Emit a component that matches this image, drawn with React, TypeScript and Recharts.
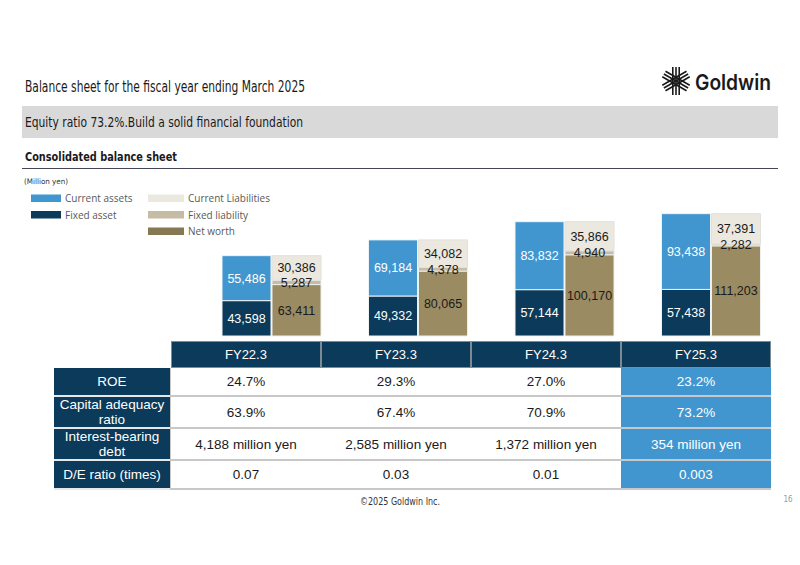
import React from "react";
import { BarChart, Bar, XAxis, YAxis, LabelList } from "recharts";

// Consolidated balance sheet (million yen)
const years = ["FY22.3", "FY23.3", "FY24.3", "FY25.3"];
const currentAssets = [55486, 69184, 83832, 93438];
const fixedAssets = [43598, 49332, 57144, 57438];
const currentLiabilities = [30386, 34082, 35866, 37391];
const fixedLiabilities = [5287, 4378, 4940, 2282];
const netWorth = [63411, 80065, 100170, 111203];

// Key indicators table
const roe = ["24.7%", "29.3%", "27.0%", "23.2%"];
const capitalAdequacy = ["63.9%", "67.4%", "70.9%", "73.2%"];
const interestBearingDebt = ["4,188 million yen", "2,585 million yen", "1,372 million yen", "354 million yen"];
const deRatio = ["0.07", "0.03", "0.01", "0.003"];
const rowLabels = [["ROE"], ["Capital adequacy", "ratio"], ["Interest-bearing", "debt"], ["D/E ratio (times)"]];
const tableRows = [roe, capitalAdequacy, interestBearingDebt, deRatio];

const NAVY = "#0b3a5a";
const BLUE = "#4196d0";
const CUR_LIAB = "#ebe8e0";
const FIX_LIAB = "#c5bca6";
const NET_WORTH = "#9b8b63";

const chartData = years.map((year, i) => ({
  year,
  fixedAsset: fixedAssets[i],
  currentAsset: currentAssets[i],
  netWorth: netWorth[i],
  fixedLiability: fixedLiabilities[i],
  currentLiability: currentLiabilities[i],
}));

const fmt = (v: any) => Number(v).toLocaleString("en-US");

const legendLeft = [
  { name: "Current assets", color: BLUE },
  { name: "Fixed asset", color: NAVY },
];
const legendRight = [
  { name: "Current Liabilities", color: CUR_LIAB },
  { name: "Fixed liability", color: FIX_LIAB },
  { name: "Net worth", color: "#857853" },
];

const HEAD_FONT = "'Liberation Sans Narrow', 'DejaVu Sans Condensed', 'Open Sans', sans-serif";
const BODY_FONT = "'Liberation Sans', Arial, sans-serif";

function Logo() {
  const cx = 676;
  const cy = 81;
  const arms = [90, 30, -30];
  return (
    <g>
      {arms.map((deg) => {
        const r = (deg * Math.PI) / 180;
        const dx = Math.cos(r);
        const dy = -Math.sin(r);
        const nx = -dy;
        const ny = dx;
        return [-3.2, 0, 3.2].map((o) => (
          <line
            key={deg + "_" + o}
            x1={cx - dx * 14 + nx * o}
            y1={cy - dy * 14 + ny * o}
            x2={cx + dx * 14 + nx * o}
            y2={cy + dy * 14 + ny * o}
            stroke="#1a1a1a"
            strokeWidth={1.6}
          />
        ));
      })}
      <text
        x={695}
        y={90}
        fontFamily="Inter, 'Open Sans', sans-serif"
        fontWeight={600}
        fontSize={21}
        fill="#1a1a1a"
        textLength={76}
        lengthAdjust="spacingAndGlyphs"
      >
        Goldwin
      </text>
    </g>
  );
}

function Page() {
  return (
    <svg width={800} height={565} style={{ position: "absolute", left: 0, top: 0 }}>
      <text x={25} y={92} fontFamily={HEAD_FONT} fontSize={15} fill="#1a1a1a" textLength={280} lengthAdjust="spacingAndGlyphs">
        Balance sheet for the fiscal year ending March 2025
      </text>
      <Logo />
      <rect x={22} y={106} width={756} height={32} fill="#d9d9d9" />
      <text x={25} y={127} fontFamily={HEAD_FONT} fontSize={13.5} fill="#1a1a1a" textLength={278} lengthAdjust="spacingAndGlyphs">
        Equity ratio 73.2%.Build a solid financial foundation
      </text>
      <text x={25} y={161} fontFamily={HEAD_FONT} fontWeight={700} fontSize={13} fill="#1a1a1a" textLength={152} lengthAdjust="spacingAndGlyphs">
        Consolidated balance sheet
      </text>
      <line x1={22} x2={778} y1={168.5} y2={168.5} stroke="#44445a" strokeWidth={1.2} />
      <text x={24} y={184} fontFamily={HEAD_FONT} fontSize={7.5} fill="#333" textLength={44} lengthAdjust="spacingAndGlyphs">
        (Million yen)
      </text>
      {legendLeft.map((it, i) => (
        <g key={it.name}>
          <rect x={31} y={194.5 + i * 16.5} width={30} height={7.5} fill={it.color} />
          <text x={65} y={202 + i * 16.5} fontFamily="'Open Sans', sans-serif" fontSize={10} fill="#595959">
            {it.name}
          </text>
        </g>
      ))}
      {legendRight.map((it, i) => (
        <g key={it.name}>
          <rect x={148} y={194.5 + i * 16.5} width={36} height={7.5} fill={it.color} />
          <text x={188} y={202 + i * 16.5} fontFamily="'Open Sans', sans-serif" fontSize={10} fill="#595959">
            {it.name}
          </text>
        </g>
      ))}
      <text x={400} y={505} textAnchor="middle" fontFamily={HEAD_FONT} fontSize={10} fill="#333" textLength={80} lengthAdjust="spacingAndGlyphs">
        ©2025 Goldwin Inc.
      </text>
      <text x={788} y={502} textAnchor="middle" fontFamily={HEAD_FONT} fontSize={8} fill="#999">
        16
      </text>
    </svg>
  );
}

function Table() {
  const left = 54;
  const labelW = 116;
  const dataLeft = 171;
  const colW = 150;
  const headTop = 341;
  const headH = 27;
  const rowH = [27, 30, 30, 27];
  const sep = 2;
  const tops: number[] = [];
  let y = headTop + headH;
  rowH.forEach((h) => {
    tops.push(y);
    y += h + sep;
  });
  const cells: React.ReactNode[] = [];
  years.forEach((yr, c) => {
    cells.push(
      <div
        key={"h" + c}
        style={{
          position: "absolute",
          left: dataLeft + c * colW,
          top: headTop,
          width: colW,
          height: headH,
          boxSizing: "border-box",
          border: "1px solid #7d8b96",
          background: NAVY,
          color: "#fff",
          fontSize: 13,
          display: "flex",
          alignItems: "center",
          justifyContent: "center",
        }}
      >
        {yr}
      </div>
    );
  });
  rowLabels.forEach((lines, r) => {
    cells.push(
      <div
        key={"l" + r}
        style={{
          position: "absolute",
          left,
          top: tops[r],
          width: labelW,
          height: rowH[r],
          background: NAVY,
          color: "#fff",
          fontSize: 13.5,
          lineHeight: "15px",
          display: "flex",
          flexDirection: "column",
          alignItems: "center",
          justifyContent: "center",
          whiteSpace: "nowrap",
        }}
      >
        {lines.map((t) => (
          <span key={t}>{t}</span>
        ))}
      </div>
    );
    tableRows[r].forEach((val, c) => {
      const hi = c === years.length - 1;
      cells.push(
        <div
          key={"d" + r + "_" + c}
          style={{
            position: "absolute",
            left: dataLeft + c * colW,
            top: tops[r],
            width: colW,
            height: rowH[r],
            background: hi ? BLUE : "#fff",
            color: hi ? "#fff" : "#1a1a1a",
            fontSize: 13.5,
            display: "flex",
            alignItems: "center",
            justifyContent: "center",
          }}
        >
          {val}
        </div>
      );
    });
  });
  const bodyTop = headTop + headH;
  return (
    <div style={{ position: "absolute", left: 0, top: 0, fontFamily: BODY_FONT }}>
      <div
        style={{
          position: "absolute",
          left: dataLeft - 1,
          top: bodyTop,
          width: colW * years.length + 1,
          height: y - bodyTop,
          background: "#c8c8c8",
        }}
      />
      <div
        style={{
          position: "absolute",
          left,
          top: bodyTop,
          width: labelW,
          height: y - bodyTop,
          background: "#e6e9ec",
        }}
      />
      {cells}
    </div>
  );
}

export default function App() {
  return (
    <div style={{ position: "absolute", left: 0, top: 0, width: 800, height: 565, background: "#fff", overflow: "hidden" }}>
      <Page />
      <div style={{ position: "absolute", left: 0, top: 180 }}>
        <BarChart
          width={800}
          height={160}
          data={chartData}
          margin={{ top: 6, right: 16, bottom: 4, left: 198 }}
          barCategoryGap={24}
          barGap={1}
        >
          <XAxis dataKey="year" hide />
          <YAxis hide domain={[0, 185000]} />
          <Bar dataKey="fixedAsset" stackId="assets" fill={NAVY} stroke="#eef2f5" strokeWidth={1} isAnimationActive={false}>
            <LabelList dataKey="fixedAsset" position="center" formatter={fmt} fill="#fff" fontSize={12.5} fontFamily={BODY_FONT} />
          </Bar>
          <Bar dataKey="currentAsset" stackId="assets" fill={BLUE} stroke="#eef2f5" strokeWidth={1} isAnimationActive={false}>
            <LabelList dataKey="currentAsset" position="center" formatter={fmt} fill="#fff" fontSize={12.5} fontFamily={BODY_FONT} />
          </Bar>
          <Bar dataKey="netWorth" stackId="liab" fill={NET_WORTH} stroke="#eeeeea" strokeWidth={1} isAnimationActive={false}>
            <LabelList dataKey="netWorth" position="center" formatter={fmt} fill="#1a1a1a" fontSize={12.5} fontFamily={BODY_FONT} />
          </Bar>
          <Bar dataKey="fixedLiability" stackId="liab" fill={FIX_LIAB} stroke="#eeeeea" strokeWidth={1} isAnimationActive={false}>
            <LabelList dataKey="fixedLiability" position="center" formatter={fmt} fill="#1a1a1a" fontSize={12.5} fontFamily={BODY_FONT} />
          </Bar>
          <Bar dataKey="currentLiability" stackId="liab" fill={CUR_LIAB} stroke="#e2e0da" strokeWidth={1} isAnimationActive={false}>
            <LabelList dataKey="currentLiability" position="center" formatter={fmt} fill="#1a1a1a" fontSize={12.5} fontFamily={BODY_FONT} />
          </Bar>
        </BarChart>
      </div>
      <Table />
    </div>
  );
}
